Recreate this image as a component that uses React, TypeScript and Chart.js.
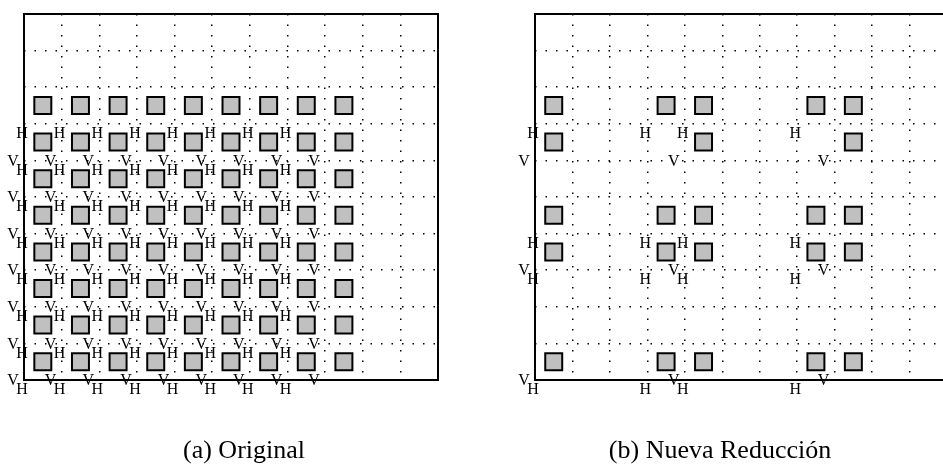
import React, { useEffect, useRef } from "react";
import { Chart, registerables } from "chart.js";

Chart.register(...registerables);

// ---------- data: panel (a) Original ----------
const colsA = [0.5, 1.5, 2.5, 3.5, 4.5, 5.5, 6.5, 7.5, 8.5];
const rowsA = [7.5, 6.5, 5.5, 4.5, 3.5, 2.5, 1.5, 0.5];
const hColsA = [0, 1, 2, 3, 4, 5, 6, 7];
const hRowsA = [7, 6, 5, 4, 3, 2, 1, 0];
const vColsA = [0, 1, 2, 3, 4, 5, 6, 7, 8];
const vRowsA = [6, 5, 4, 3, 2, 1, 0];

// ---------- data: panel (b) Nueva Reducción ----------
const rowsB = [7.5, 6.5, 4.5, 3.5, 0.5];
const colsB = [
  [0.5, 3.5, 4.5, 7.5, 8.5],
  [0.5, 4.5, 8.5],
  [0.5, 3.5, 4.5, 7.5, 8.5],
  [0.5, 3.5, 4.5, 7.5, 8.5],
  [0.5, 3.5, 4.5, 7.5, 8.5],
];
const hColsB = [0, 3, 4, 7];
const hRowsB = [7, 4, 3, 0];
const vColsB = [0, 4, 8];
const vRowsB = [6, 3, 0];

const xRange = [0, 11];
const yRange = [0, 10];
const captions = ["(a) Original", "(b) Nueva Reducción"];

type Pt = { x: number; y: number };

const pointsA: Pt[] = [];
rowsA.forEach((r) => colsA.forEach((c) => pointsA.push({ x: c, y: r })));
const pointsB: Pt[] = [];
rowsB.forEach((r, i) => colsB[i].forEach((c) => pointsB.push({ x: c, y: r })));

const nodes = (cols: number[], rows: number[]) => {
  const out: [number, number][] = [];
  rows.forEach((r) => cols.forEach((c) => out.push([c, r])));
  return out;
};

const SERIF = '"Liberation Serif", "DejaVu Serif", serif';

function labelPlugin(hNodes: [number, number][], vNodes: [number, number][]) {
  return {
    id: "hvLabels",
    afterDraw(chart: any) {
      const { ctx, chartArea } = chart;
      const xs = chart.scales.x;
      const ys = chart.scales.y;
      ctx.save();
      ctx.lineWidth = 2;
      ctx.strokeStyle = "#000";
      ctx.strokeRect(
        chartArea.left,
        chartArea.top,
        chartArea.right - chartArea.left,
        chartArea.bottom - chartArea.top
      );
      ctx.font = `16px ${SERIF}`;
      ctx.fillStyle = "#000";
      ctx.textAlign = "center";
      ctx.textBaseline = "middle";
      for (const [nx, ny] of hNodes) {
        ctx.fillText("H", xs.getPixelForValue(nx) - 2, ys.getPixelForValue(ny) + 10);
      }
      for (const [nx, ny] of vNodes) {
        ctx.fillText("V", xs.getPixelForValue(nx) - 11, ys.getPixelForValue(ny) + 1);
      }
      ctx.restore();
    },
  };
}

function makeConfig(
  points: Pt[],
  caption: string,
  hNodes: [number, number][],
  vNodes: [number, number][],
  pad: { left: number; right: number },
  yAxisWidth: number,
  rightAxisWidth: number
): any {
  return {
    type: "scatter",
    data: {
      datasets: [
        {
          data: points,
          pointStyle: "rect",
          pointRadius: 12,
          pointHoverRadius: 12,
          backgroundColor: "#c0c0c0",
          borderColor: "#000",
          borderWidth: 2,
        },
      ],
    },
    options: {
      responsive: false,
      animation: false,
      events: [],
      layout: { padding: { left: pad.left, right: pad.right, top: 5, bottom: 0 } },
      plugins: {
        legend: { display: false },
        tooltip: { enabled: false },
        title: {
          display: true,
          position: "bottom",
          text: caption,
          color: "#000",
          font: { family: SERIF, size: 26, weight: "normal", lineHeight: 1.0 },
          padding: { top: 58, bottom: 0 },
        },
      },
      scales: {
        x: {
          type: "linear",
          min: xRange[0],
          max: xRange[1],
          ticks: { display: false, stepSize: 1 },
          grid: { color: "#000", lineWidth: 1.5, drawTicks: false },
          border: { display: false, dash: [1.5, 9] },
          afterFit: (s: any) => {
            s.height = 0;
          },
        },
        y: {
          type: "linear",
          position: "left",
          min: yRange[0],
          max: yRange[1],
          ticks: { display: false, stepSize: 1 },
          grid: { color: "#000", lineWidth: 1.5, drawTicks: false },
          border: { display: false, dash: [1.5, 9] },
          afterFit: (s: any) => {
            s.width = yAxisWidth;
          },
        },
        yRight: {
          type: "linear",
          position: "right",
          min: yRange[0],
          max: yRange[1],
          ticks: { display: false },
          grid: { display: false, drawTicks: false },
          border: { display: false },
          afterFit: (s: any) => {
            s.width = rightAxisWidth;
          },
        },
      },
    },
    plugins: [labelPlugin(hNodes, vNodes)],
  };
}

function Panel(props: { config: any; left: number; width: number }) {
  const ref = useRef<HTMLCanvasElement | null>(null);
  useEffect(() => {
    if (!ref.current) return;
    const chart = new Chart(ref.current, props.config);
    return () => chart.destroy();
  }, []);
  return (
    <canvas
      ref={ref}
      width={props.width}
      height={464}
      style={{
        position: "absolute",
        left: props.left,
        top: 0,
        width: props.width,
        height: 464,
        display: "block",
      }}
    />
  );
}

export default function App() {
  const cfgA = makeConfig(
    pointsA,
    captions[0],
    nodes(hColsA, hRowsA),
    nodes(vColsA, vRowsA),
    { left: 24, right: 7 },
    0,
    26
  );
  const cfgB = makeConfig(
    pointsB,
    captions[1],
    nodes(hColsB, hRowsB),
    nodes(vColsB, vRowsB),
    { left: 20, right: 12 },
    44,
    0
  );
  return (
    <div
      style={{
        position: "fixed",
        left: 0,
        top: 0,
        width: 943,
        height: 464,
        overflow: "hidden",
        background: "#fff",
      }}
    >
      <Panel config={cfgA} left={0} width={471} />
      <Panel config={cfgB} left={471} width={490} />
    </div>
  );
}
